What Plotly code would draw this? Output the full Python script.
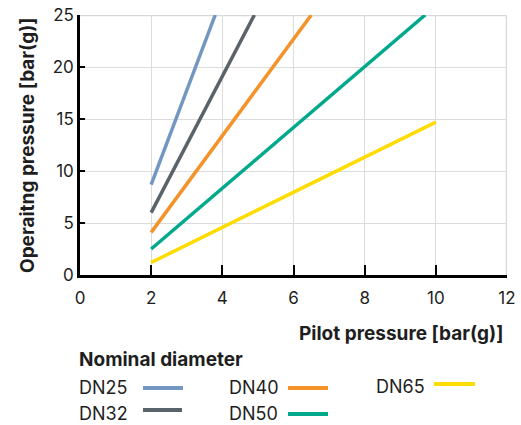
import plotly.graph_objects as go

# Data
series_names = ["DN25", "DN32", "DN40", "DN50", "DN65"]
dn25_x = [2, 3.8]
dn25_y = [8.7, 25]
dn32_x = [2, 4.9]
dn32_y = [6.0, 25]
dn40_x = [2, 6.5]
dn40_y = [4.1, 25]
dn50_x = [2, 9.7]
dn50_y = [2.5, 25]
dn65_x = [2, 10]
dn65_y = [1.2, 14.7]
colors = ["#7397c1", "#59636a", "#f3932a", "#00a98c", "#ffdc00"]
x_ticks = [0, 2, 4, 6, 8, 10, 12]
y_ticks = [0, 5, 10, 15, 20, 25]

xs = [dn25_x, dn32_x, dn40_x, dn50_x, dn65_x]
ys = [dn25_y, dn32_y, dn40_y, dn50_y, dn65_y]

FONT = "Inter, Roboto, sans-serif"
TXT = "#1e1e1e"

fig = go.Figure()
for name, x, y, c in zip(series_names, xs, ys, colors):
    fig.add_trace(go.Scatter(x=x, y=y, mode="lines", name=name,
                             line=dict(color=c, width=3.5), showlegend=False))

W, H = 521, 425
L, R, T, B = 80, 14, 15, 150
PW, PH = W - L - R, H - T - B

def px(x):
    return (x - L) / PW

def py(y):
    return (H - B - y) / PH

fig.update_layout(
    width=W, height=H, autosize=False,
    margin=dict(l=L, r=R, t=T, b=B, pad=0),
    paper_bgcolor="white", plot_bgcolor="white",
    font=dict(family=FONT, size=17, color=TXT),
    xaxis=dict(range=[0, 12], tickvals=x_ticks, showgrid=True, gridcolor="#dcdcdc",
               gridwidth=1.3, showline=True, linecolor="black", linewidth=2.5,
               ticks="inside", ticklen=10, tickcolor="black", tickwidth=1.5,
               ticklabelstandoff=6, ticklabeloverflow="allow",
               zeroline=False, tickfont=dict(size=17, color=TXT), fixedrange=True,
               automargin=False),
    yaxis=dict(range=[0, 25], tickvals=y_ticks, showgrid=True, gridcolor="#dcdcdc",
               gridwidth=1.3, showline=True, linecolor="black", linewidth=2.5,
               ticks="inside", ticklen=5, tickcolor="black", tickwidth=2,
               ticklabeloverflow="allow",
               zeroline=False, tickfont=dict(size=17, color=TXT), fixedrange=True,
               automargin=False),
)

# right/top grey border lines
fig.add_shape(type="line", xref="x", yref="y", x0=12, x1=12, y0=0, y1=25,
              line=dict(color="#d8d8d8", width=2.5), layer="below")
fig.add_shape(type="line", xref="x", yref="y", x0=0, x1=12, y0=25, y1=25,
              line=dict(color="#d8d8d8", width=2.5), layer="below")

annotations = [
    dict(text="<b>Operaitng pressure [bar(g)]</b>", x=px(27), y=py(146), xref="paper",
         yref="paper", textangle=-90, showarrow=False, font=dict(size=19, color=TXT),
         xanchor="center", yanchor="middle"),
    dict(text="<b>Pilot pressure [bar(g)]</b>", x=px(505), y=py(333), xref="paper",
         yref="paper", showarrow=False, font=dict(size=19, color=TXT),
         xanchor="right", yanchor="middle"),
    dict(text="<b>Nominal diameter</b>", x=px(77), y=py(359), xref="paper",
         yref="paper", showarrow=False, font=dict(size=19, color=TXT),
         xanchor="left", yanchor="middle"),
]

legend_pos = [  # text x, text y, swatch x0, x1, swatch y  (page pixels)
    (77, 387, 143, 183, 388),
    (77, 413, 143, 182, 410),
    (227, 387, 288, 328, 388),
    (227, 413, 288, 328, 414),
    (374, 386, 434, 475, 384),
]
for name, c, (tx, ty, sx0, sx1, sy) in zip(series_names, colors, legend_pos):
    annotations.append(dict(text=name, x=px(tx), y=py(ty), xref="paper", yref="paper",
                            showarrow=False, font=dict(size=18, color=TXT),
                            xanchor="left", yanchor="middle"))
    fig.add_shape(type="line", xref="paper", yref="paper", x0=px(sx0), x1=px(sx1),
                  y0=py(sy), y1=py(sy), line=dict(color=c, width=4))

fig.update_layout(annotations=annotations)
fig.write_html("out.html", config={"displayModeBar": False},
               post_script="document.body.style.margin='0';document.body.style.overflow='hidden';")
